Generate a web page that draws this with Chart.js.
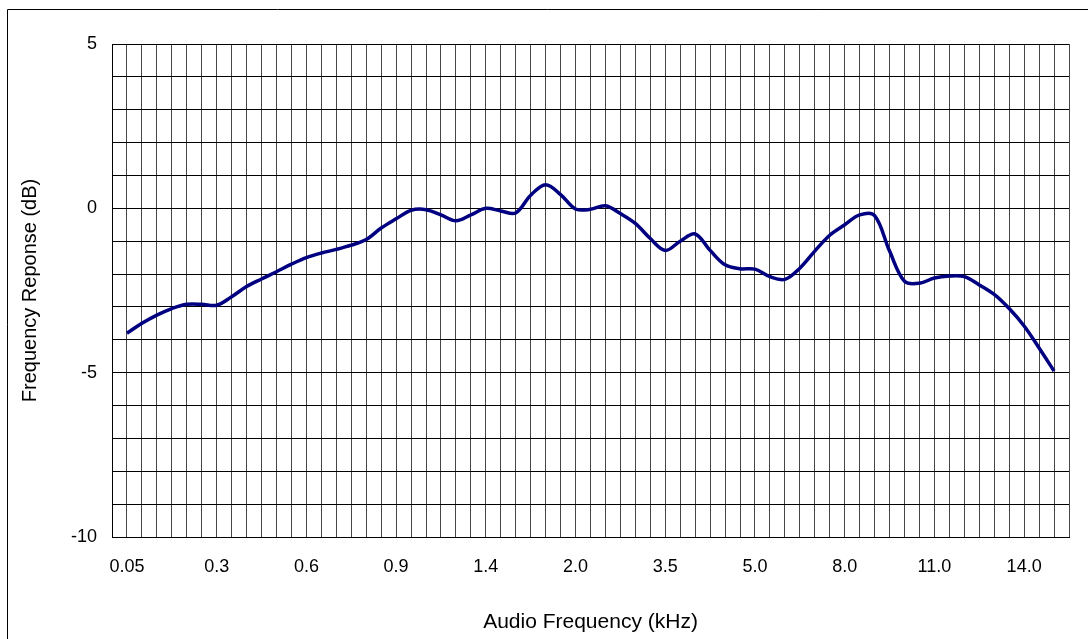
<!DOCTYPE html>
<html>
<head>
<meta charset="utf-8">
<title>Frequency Response</title>
<script src="https://cdn.jsdelivr.net/npm/chart.js@4/dist/chart.umd.min.js"></script>
<style>
    html, body { margin: 0; padding: 0; background: #fff; }
    #wrap { width: 1088px; height: 639px; position: relative; }
</style>
</head>
<body>
<div id="wrap"><canvas id="respChart" width="1088" height="639"></canvas></div>
<script>
// 频率标签（每 6 个点一个）
const tickLabels = ['0.05', '0.3', '0.6', '0.9', '1.4', '2.0', '3.5', '5.0', '8.0', '11.0', '14.0'];
const labelEvery = 6;

// 频率响应 (dB)，按点顺序
const responseDb = [
    -3.8, -3.5, -3.25, -3.05, -2.92, -2.92, -2.95, -2.69, -2.38, -2.15,
    -1.93, -1.70, -1.50, -1.36, -1.25, -1.12, -0.95, -0.60, -0.32, -0.06,
    -0.04, -0.20, -0.38, -0.20, 0.0, -0.08, -0.14, 0.40, 0.72, 0.42,
    -0.02, -0.03, 0.08, -0.16, -0.46, -0.92, -1.28, -1.0, -0.78, -1.28,
    -1.72, -1.84, -1.85, -2.08, -2.16, -1.82, -1.30, -0.82, -0.50, -0.20,
    -0.22, -1.30, -2.22, -2.28, -2.12, -2.06, -2.08, -2.33, -2.62, -3.05,
    -3.58, -4.25, -4.95
];

// y 轴范围
const yMin = -10;
const yMax = 5;

const fontFamily = '"Liberation Sans", Arial, sans-serif';

// 外框
const framePlugin = {
    id: 'frame',
    beforeDraw(chart) {
        const c = chart.ctx;
        c.save();
        c.fillStyle = '#fff';
        c.fillRect(0, 0, chart.width, chart.height);
        c.strokeStyle = '#000';
        c.lineWidth = 1;
        c.beginPath();
        c.moveTo(7.5, chart.height);
        c.lineTo(7.5, 9.5);
        c.lineTo(chart.width, 9.5);
        c.stroke();
        c.restore();
    }
};

function drawChart() {
    const points = responseDb.map((v, i) => ({ x: i, y: v }));
    const ctx = document.getElementById('respChart').getContext('2d');

    new Chart(ctx, {
        type: 'line',
        data: {
            datasets: [{
                data: points,
                borderColor: '#000080',
                borderWidth: 3.5,
                pointRadius: 0,
                tension: 0.35,
                fill: false
            }]
        },
        options: {
            responsive: false,
            animation: false,
            layout: { padding: { top: 44, right: 10, left: 10, bottom: 0 } },
            plugins: {
                legend: { display: false },
                tooltip: { enabled: false }
            },
            scales: {
                x: {
                    type: 'linear',
                    min: -1,
                    max: responseDb.length,
                    afterFit(s) { s.height = 102; },
                    afterBuildTicks(s) {
                        const t = [];
                        for (let v = -1; v <= responseDb.length; v++) t.push({ value: v });
                        s.ticks = t;
                    },
                    ticks: {
                        autoSkip: false,
                        maxRotation: 0,
                        padding: 19,
                        color: '#000',
                        font: { family: fontFamily, size: 18 },
                        callback(v) {
                            if (v >= 0 && v % labelEvery === 0) {
                                return tickLabels[v / labelEvery] || '';
                            }
                            return '';
                        }
                    },
                    grid: { color: 'rgba(0,0,0,0.72)', lineWidth: 1, drawTicks: false },
                    border: { color: '#000', width: 1 },
                    title: {
                        display: true,
                        text: 'Audio Frequency (kHz)',
                        color: '#000',
                        font: { family: fontFamily, size: 21 },
                        padding: { top: 0, bottom: 4 }
                    }
                },
                y: {
                    min: yMin,
                    max: yMax,
                    afterFit(s) { s.width = 102; },
                    ticks: {
                        stepSize: 1,
                        autoSkip: false,
                        padding: 15,
                        color: '#000',
                        font: { family: fontFamily, size: 18 },
                        callback(v) { return v % 5 === 0 ? v : ''; }
                    },
                    grid: { color: '#000', lineWidth: 1, drawTicks: false },
                    border: { color: '#000', width: 1 },
                    title: {
                        display: true,
                        text: 'Frequency Reponse (dB)',
                        color: '#000',
                        font: { family: fontFamily, size: 20 },
                        padding: { top: 8, bottom: 0 }
                    }
                }
            }
        },
        plugins: [framePlugin]
    });
}

window.addEventListener('load', drawChart);
</script>
</body>
</html>
